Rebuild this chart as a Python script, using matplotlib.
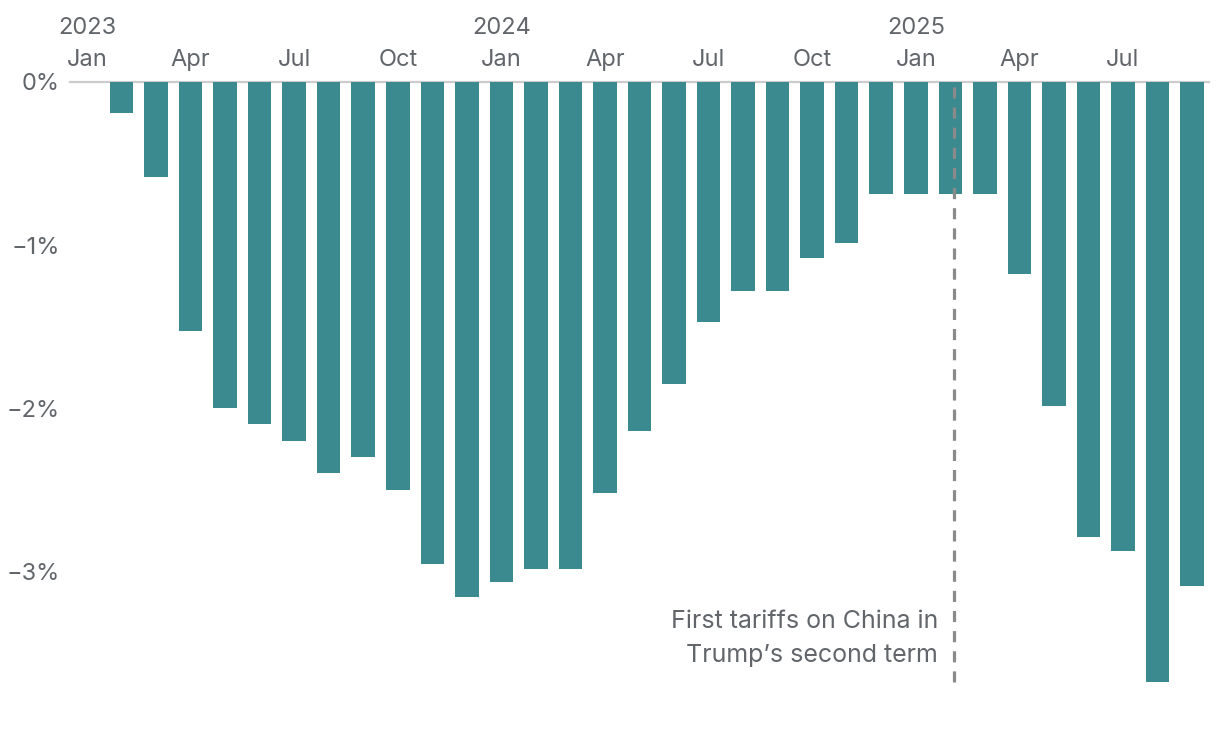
import matplotlib
matplotlib.use("Agg")
import matplotlib.pyplot as plt
import numpy as np

plt.rcParams['font.family'] = ['Inter', 'DejaVu Sans']
plt.rcParams['lines.scale_dashes'] = False

# monthly values, Jan 2023 .. Sep 2025 (percent)
values = [0.0, -0.19, -0.58, -1.53, -2.0, -2.1, -2.2, -2.4, -2.3, -2.5, -2.96, -3.16,
          -3.07, -2.99, -2.99, -2.52, -2.14, -1.85, -1.47, -1.28, -1.28, -1.08, -0.99, -0.69,
          -0.69, -0.69, -0.69, -1.18, -1.99, -2.79, -2.88, -3.68, -3.09]
month_ticks = [0, 3, 6, 9, 12, 15, 18, 21, 24, 27, 30]
month_labels = ['Jan', 'Apr', 'Jul', 'Oct', 'Jan', 'Apr', 'Jul', 'Oct', 'Jan', 'Apr', 'Jul']
year_ticks = [0, 12, 24]
year_labels = ['2023', '2024', '2025']
y_ticks = [0, -1, -2, -3]
y_labels = ['0%', '\u22121%', '\u22122%', '\u22123%']
tariff_x = 25 + 3 / 28   # Feb 4 2025
tariff_text = ['First tariffs on China in', 'Trump\u2019s second term']

bar_color = '#3b8a8f'
text_color = '#62666b'
fs = 17

W, H = 1220, 746
fig = plt.figure(figsize=(W / 100, H / 100), dpi=100)
ax_left, ax_right, ax_top, ax_bot = 69.7, 1209.3, 82, 700
ax = fig.add_axes([ax_left / W, 1 - ax_bot / H, (ax_right - ax_left) / W, (ax_bot - ax_top) / H])

x = np.arange(len(values))
ax.bar(x, values, width=0.68, color=bar_color, zorder=2)
ax.axhline(0, color='#cccccc', lw=1.6, zorder=1, clip_on=False)

ax.set_xlim(-0.5, len(values) - 0.5)
ax.set_ylim(-(ax_bot - ax_top) / 163, 0)

for s in ax.spines.values():
    s.set_visible(False)

ax.xaxis.tick_top()
ax.set_xticks(month_ticks)
ax.set_xticklabels(month_labels)
ax.set_yticks(y_ticks)
ax.set_yticklabels(y_labels)
ax.tick_params(axis='both', length=0, labelsize=fs, labelcolor=text_color)
ax.tick_params(axis='x', pad=8)
ax.tick_params(axis='y', pad=7)

for xt, yl in zip(year_ticks, year_labels):
    ax.annotate(yl, xy=(xt, 1), xycoords=('data', 'axes fraction'),
                xytext=(0, 34.5), textcoords='offset points',
                ha='center', va='baseline', fontsize=fs, color=text_color)

ax.vlines(tariff_x, min(values), 0, colors='#8a8a8a', lw=2.3,
          linestyles=(0, (8, 6.5)), zorder=3)

for i, line in enumerate(tariff_text):
    ax.annotate(line, xy=(tariff_x, -(628 + 34 * i - ax_top) / 163), xycoords='data',
                xytext=(-11.5, 0), textcoords='offset points',
                ha='right', va='baseline', fontsize=18, color=text_color)

fig.savefig('out.png', dpi=100, facecolor='white')
